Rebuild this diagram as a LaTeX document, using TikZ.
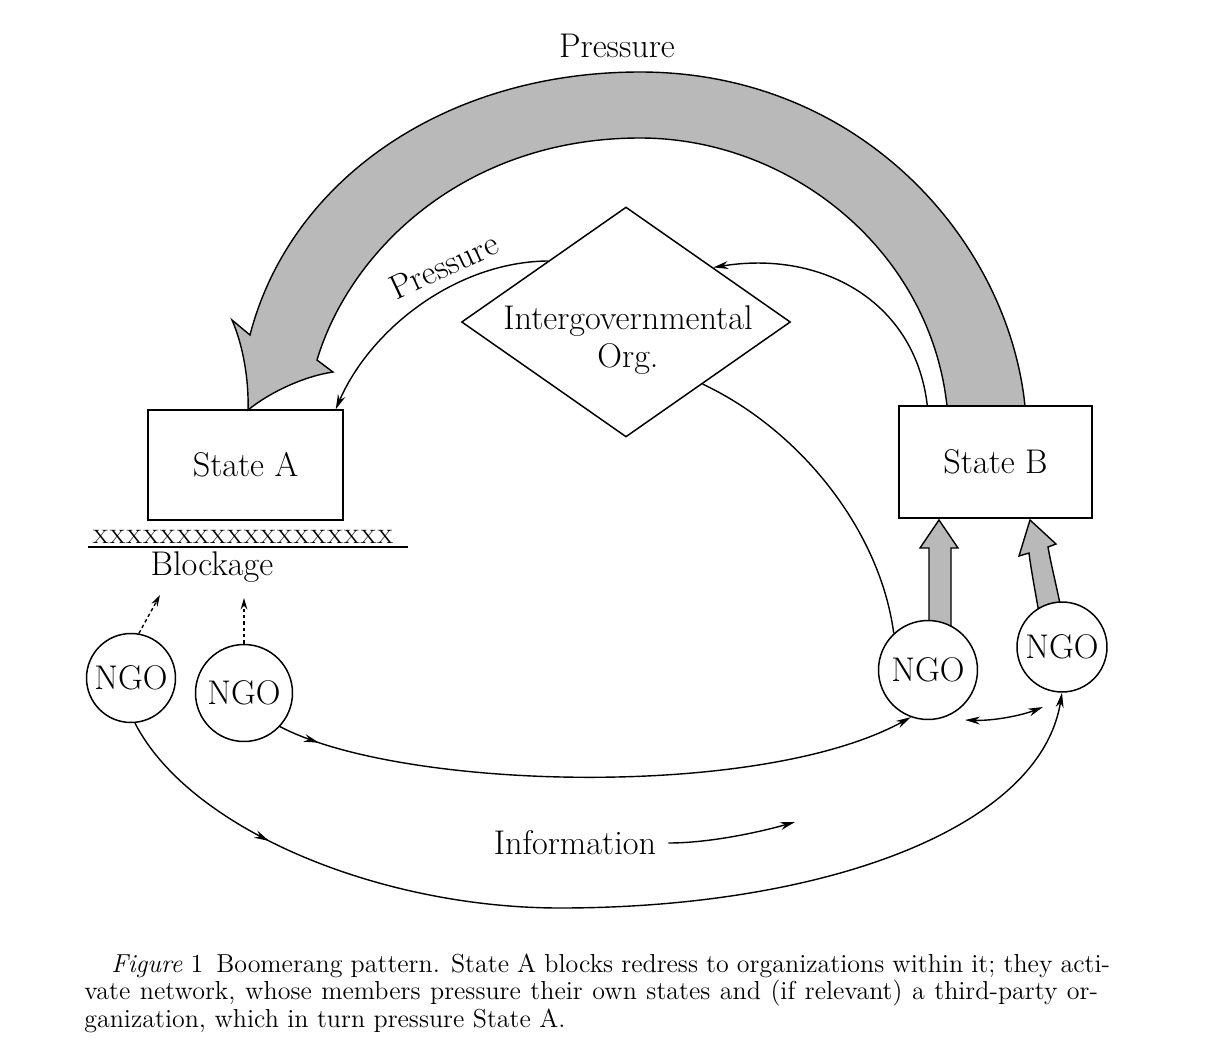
\documentclass[tikz,border=0pt]{standalone}
\usepackage{fontspec}
\usepackage{graphicx}
\usetikzlibrary{arrows.meta,shapes.geometric,calc,decorations.markings}
\tikzset{
  lbl/.style={font=\fontsize{19.5}{22}\selectfont, inner sep=0pt},
  statebox/.style={draw, line width=0.85pt, minimum width=3.9cm, minimum height=2.2cm, inner sep=0pt, font=\fontsize{19.5}{22}\selectfont},
  ngo/.style={draw, circle, line width=0.85pt, fill=white, inner sep=0pt, font=\fontsize{19.5}{22}\selectfont},
  conn/.style={line width=0.8pt},
  arr/.style={-{Stealth[length=8.5pt,width=4.5pt]}},
  bigfill/.style={fill=gray!55, draw=black, line width=0.8pt, line join=miter},
  midarrow/.style={postaction={decorate}, decoration={markings, mark=at position #1 with {\arrow{Stealth[length=8.5pt,width=4.5pt]}}}},
  dotarrow/.style={line width=0.8pt, dash pattern=on 2pt off 1.6pt, -{Stealth[length=6.5pt,width=3.8pt]}},
  captext/.style={anchor=base west, inner sep=0pt, font=\fontsize{14.8}{17}\selectfont}
}
\begin{document}
\begin{tikzpicture}[x=0.02cm,y=-0.02cm]
\useasboundingbox (0,0) rectangle (1208,1062);
% big boomerang arrow
\draw[bigfill] (1025,406) .. controls (1008,240) and (860,72) .. (640,72)
  .. controls (445,72) and (290,180) .. (250,335)
  -- (232,320)
  .. controls (243,345) and (249,380) .. (248,410)
  .. controls (270,392) and (305,376) .. (333,372)
  -- (317,360)
  .. controls (350,250) and (465,138) .. (640,138)
  .. controls (790,138) and (930,250) .. (947,406) -- cycle;
% small gray arrows
\draw[bigfill] (929,640) -- (929,548) -- (920,548) -- (939,520) -- (958,548) -- (951,548) -- (951,640) -- cycle;
\draw[bigfill] (1041,625) .. controls (1036,595) and (1031,570) .. (1029,553) -- (1019,556) -- (1030,520) -- (1056,544) -- (1048,547) .. controls (1052,570) and (1059,595) .. (1064,625) -- cycle;
% nodes
\node[statebox] (stateA) at (245.5,465) {State A};
\node[statebox, minimum width=3.86cm, minimum height=2.24cm] (stateB) at (995.5,462) {State B};
\node[draw, diamond, minimum width=6.58cm, minimum height=4.6cm, inner sep=0pt, line width=0.85pt] (igo) at (626,322) {};
\node[lbl, align=center] (igotext) at (628,340) {Intergovernmental\\Org.};
\node[ngo, minimum size=1.78cm] (ngo1) at (131,678) {NGO};
\node[ngo, minimum size=1.94cm] (ngo2) at (244,693) {NGO};
\node[ngo, minimum size=1.98cm] (ngo3) at (928,670) {NGO};
\node[ngo, minimum size=1.8cm] (ngo4) at (1062,647) {NGO};
\node[lbl] (ptop) at (617,46) {Pressure};
\node[lbl, rotate=25] (pmid) at (444,266) {Pressure};
\node[lbl] (info) at (575,843) {Information};
\node[lbl] (block) at (212,567) {Blockage};
\node[inner sep=0pt, font=\fontsize{11}{13}\selectfont] (xx) at (243,537) {\scalebox{1.18}[1]{XXXXXXXXXXXXXXXXXX}};
\coordinate (ul1) at (88,547);
\coordinate (ul2) at (408,547);
\draw[conn] (ul1) -- (ul2);
% thin connectors
\draw[conn, arr] ($(stateB.north west)+(29,0)$) .. controls (915,300) and (820,250) .. (igo.32.6);
\draw[conn, arr] (igo.142) .. controls (455,262) and (370,330) .. ($(stateA.north east)+(-8,0)$);
\draw[conn] (igo.-39) .. controls (800,430) and (880,530) .. (ngo3.133);
\coordinate (d1) at (160,595);
\coordinate (d2) at (244,598);
\draw[dotarrow] (ngo1.80) -- (d1);
\draw[dotarrow] (ngo2.north) -- (d2);
\draw[conn, arr, midarrow=0.065] (ngo2.-43) .. controls (400,790) and (760,800) .. (ngo3.-110);
\draw[conn, arr, midarrow=0.17] (ngo1.-85) .. controls (190,830) and (380,908) .. (560,908) .. controls (820,908) and (1040,830) .. (ngo4.-90);
\coordinate (da) at (965,720);
\coordinate (db) at (1043,707);
\draw[conn, {Stealth[length=8.5pt,width=4.5pt]}-{Stealth[length=8.5pt,width=4.5pt]}] (da) .. controls (992,721) and (1020,716) .. (db);
\coordinate (ia) at (795,822);
\draw[conn, arr] ($(info.east)+(12,0)$) .. controls (710,843) and (760,832) .. (ia);
% caption
\node[captext] (cap1) at (111,972) {\makebox[19.98cm][s]{\textit{Figure} 1\enspace Boomerang pattern. State A blocks redress to organizations within it; they acti-}};
\node[captext] (cap2) at (84,999) {\makebox[20.28cm][s]{vate network, whose members pressure their own states and (if relevant) a third-party or-}};
\node[captext] (cap3) at (84,1027) {ganization, which in turn pressure State A.};
\end{tikzpicture}
\end{document}
